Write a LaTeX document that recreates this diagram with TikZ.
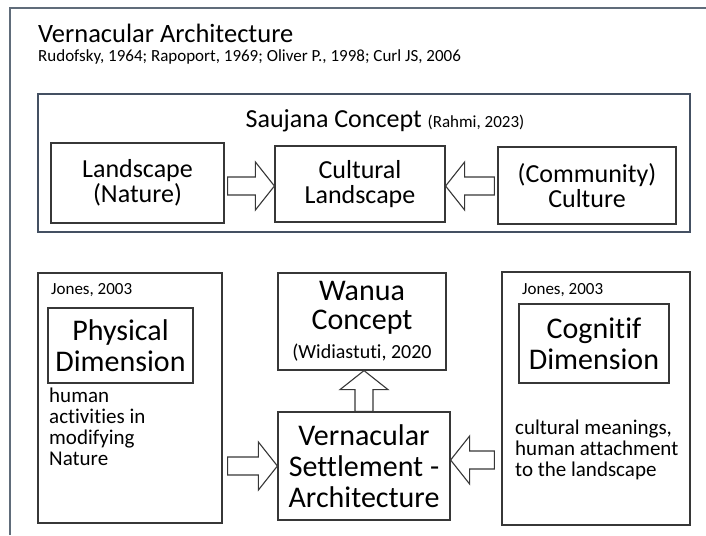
\documentclass[tikz,border=0pt]{standalone}
\usepackage{fontspec}
\setmainfont{Carlito}[Ligatures=NoCommon]
\usetikzlibrary{calc,positioning}

\definecolor{framegray}{RGB}{96,108,122}
\definecolor{slateline}{RGB}{68,80,98}
\definecolor{boxline}{RGB}{55,55,55}

\newcommand{\smalltxt}{\fontsize{17}{17}\selectfont}
\newcommand{\midtxt}{\fontsize{21}{21}\selectfont}
\newcommand{\bigtxt}{\fontsize{26}{25}\selectfont}
\newcommand{\hugetxt}{\fontsize{30}{31}\selectfont}

% hollow block arrow from #1 to #2
\newcommand{\shaftw}{9pt}
\newcommand{\headw}{24pt}
\newcommand{\headlen}{19pt}
\newcommand{\blockarrow}[2]{%
  \coordinate (ba-from) at #1;
  \coordinate (ba-to) at #2;
  \coordinate (ba-neck) at ($(ba-to)!\headlen!(ba-from)$);
  \draw[hollowarrow] ($(ba-from)!\shaftw!90:(ba-to)$) -- ($(ba-neck)!\shaftw!-90:(ba-from)$)
    -- ($(ba-neck)!\headw!-90:(ba-from)$) -- (ba-to) -- ($(ba-neck)!\headw!90:(ba-from)$)
    -- ($(ba-neck)!\shaftw!90:(ba-from)$) -- ($(ba-from)!\shaftw!-90:(ba-to)$) -- cycle;
}

\begin{document}
\begin{tikzpicture}[x=1pt, y=-1pt,
  every node/.style={inner sep=0pt},
  box/.style={draw=boxline, line width=1.2pt, fill=white, align=center},
  hollowarrow/.style={draw=boxline, line width=1.1pt, fill=white, line join=miter}]
\useasboundingbox (0,0) rectangle (706,535);

% page frame
\draw[framegray, line width=2pt] (10,535) -- (10,8) -- (706,8);

\node[anchor=base west, font=\fontsize{26.5}{30}\selectfont] (title) at (38,42) {Vernacular Architecture};
\node[anchor=base west, font=\fontsize{17}{18}\selectfont] (refs) at (38,61) {Rudofsky, 1964; Rapoport, 1969; Oliver P., 1998; Curl JS, 2006};

% Saujana concept
\node[draw=slateline, line width=1.8pt, minimum width=652, minimum height=138] (saujana) at (364,163) {};
\node[anchor=base, font=\bigtxt] (saujanalabel) at (385,127) {Saujana Concept {\smalltxt (Rahmi, 2023)}};

\node[box, font=\bigtxt, minimum width=173, minimum height=80] (landscape) at (137.5,183) {Landscape\\(Nature)};
\node[box, font=\bigtxt, minimum width=170, minimum height=76] (cultural) at (360,184) {Cultural\\Landscape};
\node[box, font=\bigtxt, minimum width=178, minimum height=77] (community) at (587,185.5) {(Community)\\Culture};

\blockarrow{($(landscape.east)+(3,3)$)}{($(landscape.east -| cultural.west)+(0,3)$)}
\blockarrow{($(community.west |- cultural.east)+(-3,2)$)}{($(cultural.east)+(0,2)$)}

% lower part
\node[box, minimum width=184, minimum height=250] (physbox) at (130,398) {};
\node[anchor=base west, font=\smalltxt] (jonesL) at (51,294) {Jones, 2003};
\node[box, font=\hugetxt, minimum width=145, minimum height=75] (physical) at (120.5,345.5) {Physical\\Dimension};
\node[anchor=north west, align=left, font=\midtxt] (human) at (49,388) {human\\activities in\\modifying\\Nature};

\node[box, minimum width=188, minimum height=253] (cogbox) at (596,398.5) {};
\node[anchor=base west, font=\smalltxt] (jonesR) at (522,294) {Jones, 2003};
\node[box, font=\hugetxt, minimum width=150, minimum height=79] (cognitif) at (594,343.5) {Cognitif\\Dimension};
\node[anchor=north west, align=left, font=\midtxt] (meanings) at (515,420) {cultural meanings,\\human attachment\\to the landscape};

\node[box, font=\fontsize{30}{29}\selectfont, minimum width=168, minimum height=97] (wanua) at (362,321.5) {Wanua\\Concept\\{\fontsize{20}{20}\selectfont (Widiastuti, 2020}};
\node[box, font=\hugetxt, minimum width=172, minimum height=108] (vernacular) at (364,466) {Vernacular\\Settlement -\\Architecture};

\blockarrow{($(physbox.east |- vernacular.west)+(5,0)$)}{(vernacular.west)}
\blockarrow{($(cogbox.west |- vernacular.east)+(-7,-6)$)}{($(vernacular.east)+(0,-6)$)}
\blockarrow{(vernacular.north)}{(vernacular.north |- wanua.south)}
\end{tikzpicture}
\end{document}
